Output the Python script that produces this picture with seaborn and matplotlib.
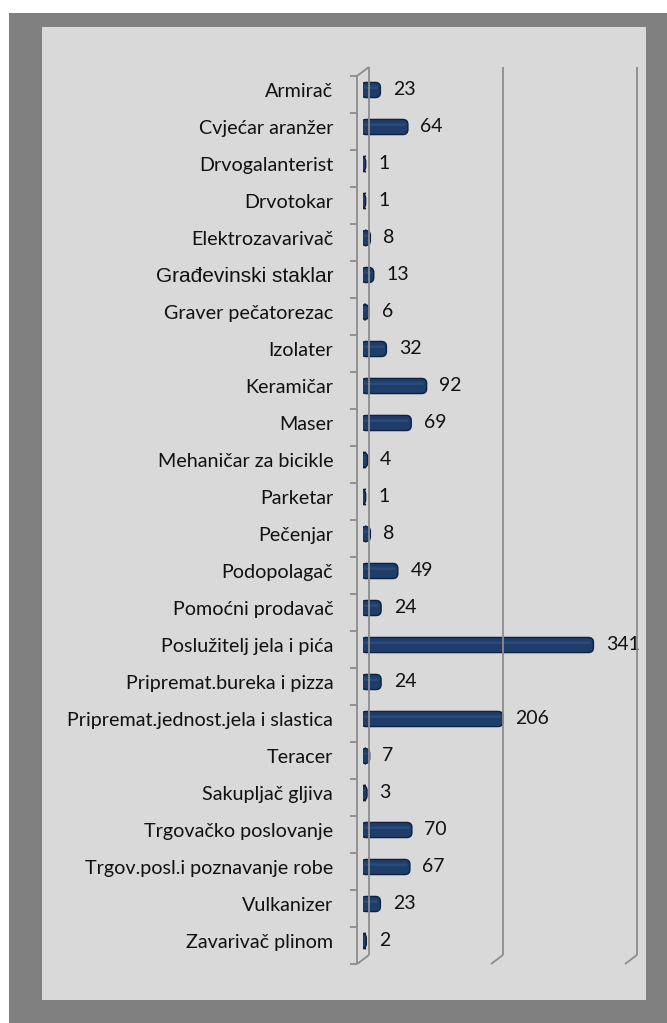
import matplotlib
matplotlib.use("Agg")
import matplotlib.pyplot as plt
import seaborn as sns
import pandas as pd
from matplotlib.patches import Rectangle, FancyBboxPatch
from matplotlib.lines import Line2D

# Occupations and number of persons
occupations = [
    "Armirač", "Cvjećar aranžer", "Drvogalanterist", "Drvotokar",
    "Elektrozavarivač", "Građevinski staklar", "Graver pečatorezac",
    "Izolater", "Keramičar", "Maser", "Mehaničar za bicikle", "Parketar",
    "Pečenjar", "Podopolagač", "Pomoćni prodavač", "Poslužitelj jela i pića",
    "Pripremat.bureka i pizza", "Pripremat.jednost.jela i slastica",
    "Teracer", "Sakupljač gljiva", "Trgovačko poslovanje",
    "Trgov.posl.i poznavanje robe", "Vulkanizer", "Zavarivač plinom",
]
counts = [23, 64, 1, 1, 8, 13, 6, 32, 92, 69, 4, 1, 8, 49, 24, 341, 24,
          206, 7, 3, 70, 67, 23, 2]
grid_values = [0, 200, 400]

df = pd.DataFrame({"zanimanje": occupations, "broj": counts})

W, H = 667, 1023
DPI = 100
sns.set_theme(style="white")
plt.rcParams["font.family"] = ["Lato", "DejaVu Sans"]

fig = plt.figure(figsize=(W / DPI, H / DPI), dpi=DPI, facecolor="white")

def fx(px):
    return px / W

def fy(py):
    return (H - py) / H

# outer dark frame and inner light panel
fig.add_artist(Rectangle((fx(9), 0), fx(W - 9), (H - 13) / H,
                         transform=fig.transFigure, facecolor="#808080",
                         edgecolor="none", zorder=0))
fig.add_artist(Rectangle((fx(42), fy(1000)), fx(646 - 42), (1000 - 27) / H,
                         transform=fig.transFigure, facecolor="#d9d9d9",
                         edgecolor="none", zorder=0))

ax_left, ax_right = 363, 641
ax_top, ax_bottom = 71.5, 959.5
ax = fig.add_axes([fx(ax_left), fy(ax_bottom), fx(ax_right - ax_left),
                   (ax_bottom - ax_top) / H])
ax.set_facecolor("none")

bar_color = "#1f3d6b"
sns.barplot(data=df, x="broj", y="zanimanje", orient="h", ax=ax,
            color=bar_color, width=0.3, saturation=1)
ax.set_xlim(0, 415)
ax.set_ylim(len(occupations) - 0.5, -0.5)
for s in ax.spines.values():
    s.set_visible(False)
ax.set_xticks([])
ax.set_xlabel("")
ax.set_ylabel("")
ax.tick_params(axis="y", length=0, pad=21.5)
for lbl in ax.get_yticklabels():
    lbl.set_fontsize(14.2)
    lbl.set_color("#111111")
    if lbl.get_text() == "Građevinski staklar":
        lbl.set_family(["Liberation Sans", "DejaVu Sans"])
        lbl.set_fontsize(15)

# pixel <-> data scale for the rounded bar ends
x_per_px = 415 / (ax_right - ax_left)
y_per_px = len(occupations) / (ax_bottom - ax_top)
aspect = y_per_px / x_per_px

# redraw each bar as a rounded, shaded body
for p in list(ax.patches):
    x0, y0 = p.get_x(), p.get_y()
    w, h = p.get_width(), p.get_height()
    p.remove()
    body = FancyBboxPatch((x0, y0), w, h,
                          boxstyle=f"round,pad={2 * x_per_px},rounding_size={5 * x_per_px}",
                          mutation_aspect=aspect, facecolor=bar_color,
                          edgecolor="#0d2140", linewidth=1.0, zorder=3)
    ax.add_patch(body)
    hl = FancyBboxPatch((x0, y0 + h * 0.18), w, h * 0.22,
                        boxstyle=f"round,pad=0,rounding_size={2 * x_per_px}",
                        mutation_aspect=aspect, facecolor="#3a5d8f",
                        edgecolor="none", alpha=0.45, zorder=4)
    ax.add_patch(hl)

# value labels at the bar ends
for i, v in enumerate(counts):
    ax.annotate(f"{v}", xy=(v, i), xytext=(10.5, 0.5), textcoords="offset points",
                ha="left", va="center", fontsize=14, color="#111111",
                annotation_clip=False)

# 3-D wall: back plane shifted up-right, front plane down-left
back = (6, 4.5)
front = (-6, -4.5)
to_fig = fig.transFigure.inverted()

def pt(xd, yd, off):
    dx, dy = ax.transData.transform((xd, yd))
    return to_fig.transform((dx + off[0], dy + off[1]))

line_kw = dict(color="#8c8c8c", linewidth=1.3, solid_capstyle="butt", zorder=2)
y_top, y_bot = -0.5, len(occupations) - 0.5

def seg(p1, p2, **kw):
    fig.add_artist(Line2D([p1[0], p2[0]], [p1[1], p2[1]],
                          transform=fig.transFigure, **{**line_kw, **kw}))

for g in grid_values:
    seg(pt(g, y_top, back), pt(g, y_bot, back))
    seg(pt(g, y_bot, back), pt(g, y_bot, front))

# left wall edges and category ticks on the front plane
seg(pt(0, y_top, back), pt(0, y_top, front))
seg(pt(0, y_top, front), pt(0, y_bot, front))
for k in range(len(occupations) + 1):
    a = pt(0, k - 0.5, front)
    b = (a[0] - 7 / W, a[1])
    seg(a, b)

fig.savefig("out.png", dpi=DPI, facecolor="white")
